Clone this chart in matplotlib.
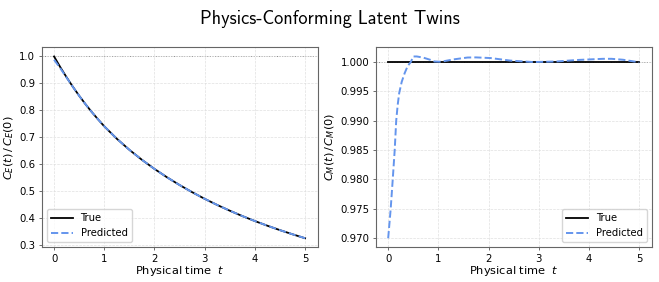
import os
import numpy as np
import matplotlib
matplotlib.use("Agg")
from matplotlib import pyplot as plt
from matplotlib.font_manager import FontProperties

# left panel: energy correlation
t_e = [0.0, 0.125, 0.25, 0.375, 0.5, 0.625, 0.75, 0.875, 1.0, 1.25, 1.5, 1.75, 2.0,
       2.25, 2.5, 2.75, 3.0, 3.25, 3.5, 3.75, 4.0, 4.25, 4.5, 4.75, 5.0]
ce_true = [1.000, 0.960, 0.9226, 0.8874, 0.8543, 0.8232, 0.7941, 0.7670, 0.7408, 0.6948,
           0.6538, 0.6167, 0.5829, 0.5518, 0.5232, 0.4967, 0.4720, 0.4492, 0.4280, 0.4081,
           0.3896, 0.3722, 0.3559, 0.3405, 0.3259]
ce_pred = [0.988, 0.956, 0.9215, 0.8871, 0.8542, 0.8232, 0.7941, 0.7670, 0.7408, 0.6948,
           0.6538, 0.6167, 0.5829, 0.5518, 0.5232, 0.4967, 0.4720, 0.4492, 0.4280, 0.4081,
           0.3896, 0.3722, 0.3559, 0.3405, 0.3259]

# right panel: momentum correlation
t_m = [0.0, 0.05, 0.09, 0.13, 0.16, 0.19, 0.22, 0.27, 0.33, 0.39, 0.45, 0.5, 0.57, 0.7,
       0.85, 0.92, 1.05, 1.3, 1.58, 1.75, 2.04, 2.43, 2.89, 3.36, 3.76, 4.28, 4.45,
       4.68, 4.97, 5.0]
cm_true = [1.0] * len(t_m)
cm_pred = [0.9700, 0.9750, 0.9799, 0.9850, 0.9900, 0.9927, 0.9947, 0.9966, 0.9981, 0.9993,
           0.99995, 1.0009, 1.0009, 1.0007, 1.0003, 1.00005, 1.0000, 1.0004, 1.00072, 1.00074,
           1.00063, 1.0002, 0.99995, 1.00005, 1.0003, 1.0005, 1.0005, 1.00034, 0.99995, 0.99990]

ticks_x = [0, 1, 2, 3, 4, 5]
ticks_e = [0.3, 0.4, 0.5, 0.6, 0.7, 0.8, 0.9, 1.0]
ticks_m = [0.970, 0.975, 0.980, 0.985, 0.990, 0.995, 1.000]

pred_color = '#6495ED'

fig, (ax1, ax2) = plt.subplots(1, 2, figsize=(6.59, 2.82), dpi=100)
fig.subplots_adjust(left=0.063, right=0.989, top=0.832, bottom=0.123, wspace=0.21)

for ax in (ax1, ax2):
    ax.axhline(1.0, color='grey', ls=':', lw=0.7, zorder=1)
    ax.grid(True, ls='--', lw=0.5, color='#dddddd', alpha=0.9)
    for s in ax.spines.values():
        s.set_color('#666666')
        s.set_linewidth(0.8)
    ax.tick_params(labelsize=7.3, length=2.5, width=0.6, pad=2, color='#555555')
    ax.set_xlabel(r'Physical time  $t$', fontsize=8.2, labelpad=0.5)
    ax.set_xticks(ticks_x)

ax1.plot(t_e, ce_true, color='black', lw=1.3, label='True', zorder=2)
ax1.plot(t_e, ce_pred, color=pred_color, lw=1.4, ls='--', label='Predicted', zorder=3)
ax1.set_ylabel(r'$C_E(t)\,/\,C_E(0)$', fontsize=8.2, labelpad=2)
ax1.set_yticks(ticks_e)
ax1.legend(loc='lower left', fontsize=7.2, handlelength=2.2)

ax2.plot(t_m, cm_true, color='black', lw=1.3, label='True', zorder=2)
ax2.plot(t_m, cm_pred, color=pred_color, lw=1.4, ls='--', label='Predicted', zorder=3)
ax2.set_ylabel(r'$C_M(t)\,/\,C_M(0)$', fontsize=8.2, labelpad=2)
ax2.set_yticks(ticks_m)
ax2.yaxis.set_major_formatter(plt.FormatStrFormatter('%.3f'))
ax2.legend(loc='lower right', fontsize=7.2, handlelength=2.2)

cmss = os.path.join(matplotlib.get_data_path(), 'fonts', 'ttf', 'cmss10.ttf')
fp = FontProperties(fname=cmss, size=13.2)
fig.suptitle('Physics-Conforming Latent Twins', fontproperties=fp, y=0.965)

fig.savefig('out.png', dpi=100)
